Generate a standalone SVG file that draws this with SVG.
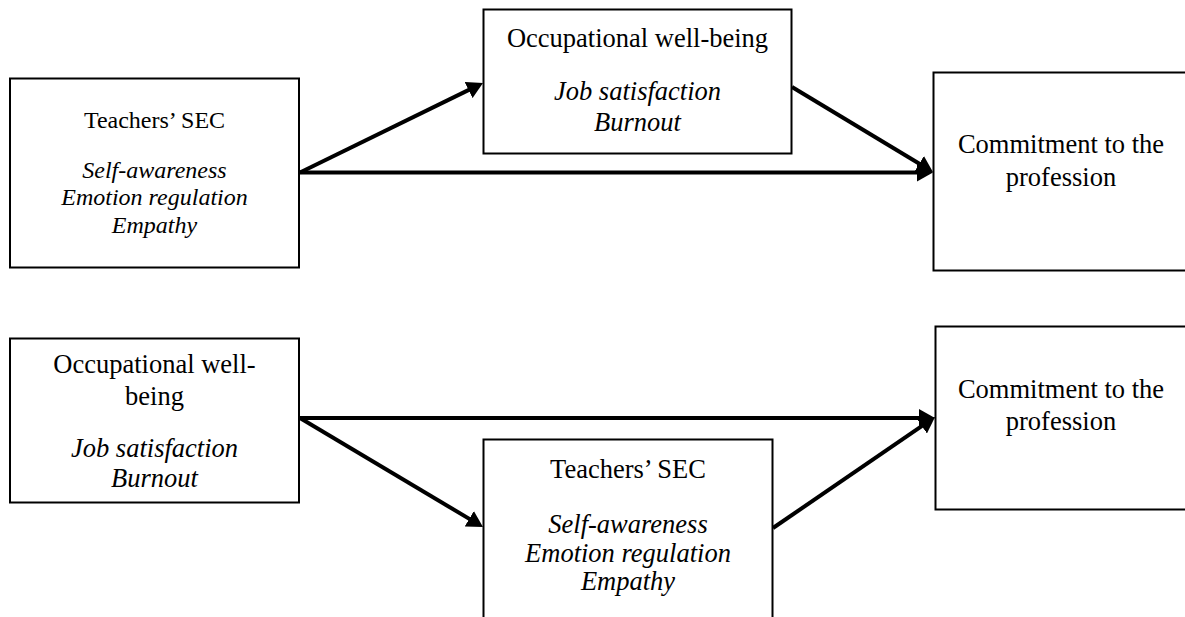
<svg xmlns="http://www.w3.org/2000/svg" width="1185" height="617" viewBox="0 0 1185 617">
  <style>
    .box { fill: #ffffff; stroke: #000000; stroke-width: 2; }
    .lbl { font-family: "Liberation Serif", "Times New Roman", serif; font-size: 26.5px; fill: #000000; text-anchor: middle; }
    .small { font-size: 24px; }
    .it { font-style: italic; }
    .edge { stroke: #000000; stroke-width: 4; fill: none; marker-end: url(#head); }
  </style>
  <defs>
    <marker id="head" viewBox="0 0 16 18" refX="6" refY="9" markerWidth="16" markerHeight="18" markerUnits="userSpaceOnUse" orient="auto">
      <path d="M0,0 L16,9 L0,18 z" fill="#000000"/>
    </marker>
  </defs>

  <rect width="1185" height="617" fill="#ffffff"/>

  <!-- upper model: SEC -> well-being -> commitment -->
  <g id="sec-top">
    <rect class="box" x="10" y="78.5" width="289" height="189"/>
    <text class="lbl small" x="154.5" y="128.3">Teachers’ SEC</text>
    <text class="lbl small it" x="154.5" y="178.3">Self-awareness</text>
    <text class="lbl small it" x="154.5" y="205">Emotion regulation</text>
    <text class="lbl small it" x="154.5" y="232.7">Empathy</text>
  </g>

  <g id="wellbeing-top">
    <rect class="box" x="483.5" y="9.5" width="308" height="144"/>
    <text class="lbl" x="637.5" y="46.7">Occupational well-being</text>
    <text class="lbl it" x="637.5" y="100">Job satisfaction</text>
    <text class="lbl it" x="637.5" y="131">Burnout</text>
  </g>

  <g id="commitment-top">
    <rect class="box" x="933.5" y="72.5" width="255" height="198"/>
    <text class="lbl" x="1061" y="153.3">Commitment to the</text>
    <text class="lbl" x="1061" y="186">profession</text>
  </g>

  <!-- lower model: well-being -> SEC -> commitment -->
  <g id="wellbeing-bottom">
    <rect class="box" x="10" y="338.5" width="289" height="164"/>
    <text class="lbl" x="154.5" y="373.3">Occupational well-</text>
    <text class="lbl" x="154.5" y="405">being</text>
    <text class="lbl it" x="154.5" y="456.7">Job satisfaction</text>
    <text class="lbl it" x="154.5" y="486.7">Burnout</text>
  </g>

  <g id="sec-bottom">
    <rect class="box" x="483.5" y="439.5" width="289" height="190"/>
    <text class="lbl" x="628" y="478.3">Teachers’ SEC</text>
    <text class="lbl it" x="628" y="533.3">Self-awareness</text>
    <text class="lbl it" x="628" y="561.7">Emotion regulation</text>
    <text class="lbl it" x="628" y="590">Empathy</text>
  </g>

  <g id="commitment-bottom">
    <rect class="box" x="935.5" y="326.5" width="253" height="183"/>
    <text class="lbl" x="1061" y="398.3">Commitment to the</text>
    <text class="lbl" x="1061" y="430">profession</text>
  </g>

  <g id="connectors">
    <line class="edge" x1="300" y1="172.5" x2="474" y2="87.4"/>
    <line class="edge" x1="300" y1="172.5" x2="923" y2="172.5"/>
    <line class="edge" x1="792" y1="87" x2="924.4" y2="166.8"/>
    <line class="edge" x1="300" y1="418" x2="925" y2="418"/>
    <line class="edge" x1="300" y1="418" x2="474.4" y2="521.9"/>
    <line class="edge" x1="773" y1="528" x2="926.8" y2="422.7"/>
  </g>
</svg>
